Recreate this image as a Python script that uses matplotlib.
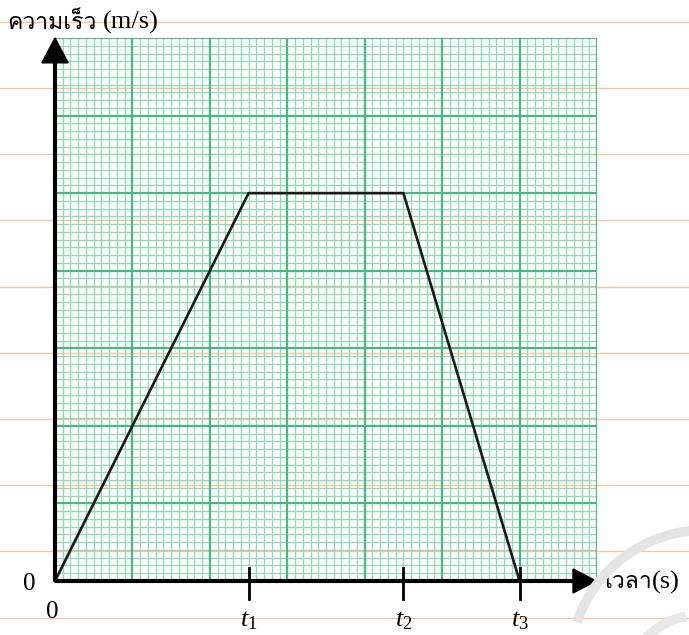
#!/usr/bin/env python3

import numpy as np
import matplotlib
matplotlib.use("Agg")
import matplotlib.pyplot as plt
from matplotlib import font_manager
from matplotlib.ft2font import FT2Font
from matplotlib.lines import Line2D
from matplotlib.patches import Arc

#DATA-------------
time_pts = [0.0, 2.5, 4.5, 6.0]
speed_pts = [0.0, 5.0, 5.0, 0.0]
tick_pos = [2.5, 4.5, 6.0]
tick_labels = [r"$t_1$", r"$t_2$", r"$t_3$"]
y_label_th = "ความเร็ว"
y_label_unit = "(m/s)"
x_label_th = "เวลา"
x_label_unit = "(s)"
#------------------

plt.rcParams['mathtext.fontset'] = 'custom'
plt.rcParams['mathtext.rm'] = 'Liberation Serif'
plt.rcParams['mathtext.it'] = 'Liberation Serif:italic'

#Pick a font that actually has Thai glyphs
def find_thai_font():
	for f in font_manager.fontManager.ttflist:
		try:
			cmap = FT2Font(f.fname).get_charmap()
		except Exception:
			continue
		if 0x0E04 in cmap and 0x0E27 in cmap:
			return f.name
	return "DejaVu Sans"

thai_font = find_thai_font()

W, H = 689, 635
fig = plt.figure(figsize=(W/100, H/100), dpi=100)

#page rule lines behind everything
page_rules_px = [22, 88, 154, 220, 287, 353, 419, 485, 551, 618]
for py in page_rules_px:
	fig.add_artist(Line2D([0, 1], [1-py/H, 1-py/H], transform=fig.transFigure,
		color="#f8c49a", lw=1.0, zorder=-5))

#faint watermark arcs, bottom right
r = 135
fig.add_artist(Arc((705/W, 1-665/H), 2*r/W, 2*r/H, theta1=92, theta2=160,
	transform=fig.transFigure, color="#e4e4e4", lw=7, zorder=8))
r2 = 75
fig.add_artist(Arc((700/W, 1-690/H), 2*r2/W, 2*r2/H, theta1=100, theta2=150,
	transform=fig.transFigure, color="#e8e8e8", lw=7, zorder=8))

ax = fig.add_axes([55/W, 1-581/H, 542/W, 543/H])
ax.set_xlim(0, 7)
ax.set_ylim(0, 7)
ax.axis("off")
ax.patch.set_visible(True)
ax.patch.set_facecolor("white")
ax.patch.set_alpha(0.8)

#graph paper
minor = np.round(np.arange(0, 7.01, 0.1), 2)
for v in minor:
	if abs(v - round(v)) < 1e-6:
		continue
	ax.axvline(v, color="#98d8b9", lw=1.0, zorder=1)
	ax.axhline(v, color="#98d8b9", lw=1.0, zorder=1)
for v in range(8):
	ax.axvline(v, color="#45b883", lw=1.6, zorder=2)
	ax.axhline(v, color="#45b883", lw=1.6, zorder=2)

#speed-time line
ax.plot(time_pts, speed_pts, color="#1a1a1a", lw=1.9, zorder=5, clip_on=False)

#axes arrows
ax.arrow(0, 0, 0, 7, width=0.035, head_width=0.34, head_length=0.32,
	length_includes_head=True, color="black", zorder=6, clip_on=False)
ax.arrow(0, 0, 6.99, 0, width=0.035, head_width=0.31, head_length=0.3,
	length_includes_head=True, color="black", zorder=6, clip_on=False)

#tick marks and labels
for x, lab in zip(tick_pos, tick_labels):
	ax.plot([x, x], [0.17, -0.23], color="black", lw=2.0, zorder=6, clip_on=False)
	ax.text(x, -0.33, lab, fontsize=19, ha="center", va="top", clip_on=False)

ax.text(-0.33, -0.04, "0", fontsize=18, family="Liberation Serif", ha="center", va="center")
ax.text(-0.03, -0.4, "0", fontsize=18, family="Liberation Serif", ha="center", va="center")

#axis titles
fig.text(7/W, 1-23/H, y_label_th, fontsize=16.5, family=thai_font, va="center", ha="left")
fig.text(103/W, 1-22/H, y_label_unit, fontsize=19, family="Liberation Serif", va="center", ha="left")
fig.text(604/W, 1-582/H, x_label_th, fontsize=16.5, family=thai_font, va="center", ha="left")
fig.text(652/W, 1-582/H, x_label_unit, fontsize=19, family="Liberation Serif", va="center", ha="left")

plt.savefig("out.png", dpi=100)
